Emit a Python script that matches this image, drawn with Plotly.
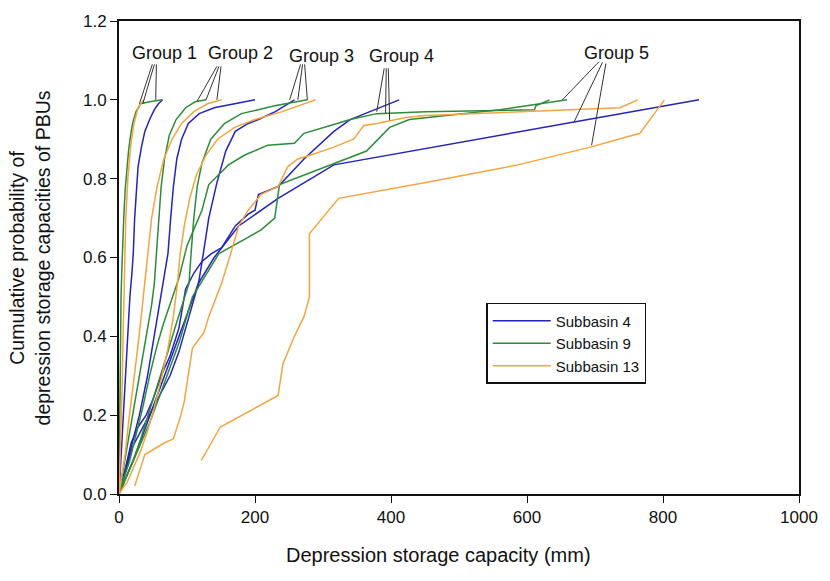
import plotly.graph_objects as go

# ---------------- data ----------------
subbasins = ["Subbasin 4", "Subbasin 9", "Subbasin 13"]
colors = {"Subbasin 4": "#2424b8", "Subbasin 9": "#2e8b3a", "Subbasin 13": "#f2a541"}

# Subbasin 4 (blue)
s4_g1_x = [0, 3, 7, 10, 13, 16, 19, 21, 23, 26, 28, 33, 38, 45, 52, 58, 64]
s4_g1_y = [0, .1, .2, .3, .4, .5, .56, .61, .7, .78, .83, .88, .92, .95, .975, .99, 1.0]
s4_g2_x = [0, 8, 18, 30, 42, 52, 60, 66, 72, 76, 80, 85, 92, 102, 118, 140, 170, 200]
s4_g2_y = [0, .05, .12, .2, .3, .4, .48, .55, .61, .7, .78, .85, .9, .94, .965, .98, .99, 1.0]
s4_g3_x = [0, 10, 22, 35, 50, 65, 80, 93, 105, 117, 124, 132, 144, 157, 171, 190, 205, 230, 258]
s4_g3_y = [0, .04, .09, .15, .22, .29, .36, .42, .48, .535, .61, .7, .79, .87, .92, .94, .95, .97, 1.0]
s4_g4_x = [0, 3, 10, 18, 28, 40, 50, 62, 75, 88, 98, 110, 122, 136, 151, 171, 190, 200, 205, 234, 272, 316, 340, 369, 412]
s4_g4_y = [0, .02, .07, .13, .17, .2, .24, .3, .35, .42, .52, .56, .59, .61, .625, .68, .71, .72, .76, .78, .85, .92, .95, .97, 1.0]
s4_g5_x = [0, 3, 10, 20, 35, 50, 62, 75, 88, 100, 117, 140, 176, 234, 316, 853]
s4_g5_y = [0, .02, .06, .12, .17, .22, .26, .3, .36, .43, .535, .6, .68, .75, .835, 1.0]

# Subbasin 9 (green)
s9_g1_x = [0, .5, 1, 1.5, 2, 3, 4, 5, 7, 9, 11, 14, 17, 20, 25, 32, 45, 64]
s9_g1_y = [0, .1, .2, .3, .4, .5, .56, .62, .7, .77, .82, .87, .91, .94, .97, .99, .995, 1.0]
s9_g2_x = [0, 5, 11, 18, 26, 34, 42, 48, 52, 55, 58, 62, 67, 74, 84, 98, 112, 128]
s9_g2_y = [0, .05, .1, .17, .25, .33, .41, .48, .535, .61, .7, .78, .85, .91, .95, .98, .995, 1.0]
s9_g3_x = [0, 10, 20, 32, 45, 58, 70, 82, 93, 103, 106, 110, 115, 122, 135, 155, 180, 229, 277]
s9_g3_y = [0, .04, .08, .14, .21, .28, .35, .42, .48, .535, .61, .7, .78, .84, .9, .94, .965, .985, 1.0]
s9_g4_x = [0, 5, 15, 25, 35, 45, 55, 65, 75, 88.5, 100, 122, 132, 161, 185, 219, 258, 272, 311, 340, 379, 451, 611, 613, 633]
s9_g4_y = [0, .03, .08, .15, .22, .3, .37, .43, .48, .55, .63, .72, .785, .835, .86, .885, .89, .915, .935, .95, .965, .97, .975, .985, 1.0]
s9_g5_x = [0, 5, 15, 30, 45, 60, 75, 88.5, 108, 147, 209, 229, 236, 311, 364, 398, 427, 560, 659]
s9_g5_y = [0, .02, .06, .12, .18, .25, .32, .385, .5, .61, .67, .70, .785, .835, .87, .93, .95, .975, 1.0]

# Subbasin 13 (orange)
s13_g1_x = [0, 2, 3, 5, 6, 7, 8, 10, 13, 17, 22, 28, 36]
s13_g1_y = [0, .1, .2, .3, .4, .5, .6, .7, .8, .88, .94, .98, 1.0]
s13_g2_x = [0, 4, 9, 14, 20, 26, 32, 38, 42, 48, 56, 66, 78, 92, 110, 130, 151]
s13_g2_y = [0, .05, .1, .18, .26, .35, .44, .535, .61, .7, .78, .85, .9, .94, .97, .99, 1.0]
s13_g3_x = [0, 12, 22, 32, 42, 52, 62, 72, 80, 86, 90, 96, 104, 114, 128, 145, 170, 200, 240, 265, 289]
s13_g3_y = [0, .03, .07, .11, .16, .22, .29, .37, .45, .535, .61, .68, .75, .81, .86, .9, .93, .95, .97, .985, 1.0]
s13_g4_x = [23, 38, 67, 80, 91, 96, 108, 125, 132, 151, 166, 176, 190, 209, 234, 248, 263, 282, 316, 345, 360, 379, 422, 451, 737, 763]
s13_g4_y = [.02, .1, .13, .14, .2, .235, .37, .41, .45, .535, .62, .68, .72, .76, .78, .83, .85, .86, .88, .9, .935, .94, .955, .96, .98, 1.0]
s13_g5_x = [121, 149, 234, 241, 258, 272, 280, 280, 323, 451, 587, 693, 766, 802]
s13_g5_y = [.085, .17, .25, .33, .40, .45, .50, .66, .75, .79, .835, .88, .915, 1.0]

series = {
    "Subbasin 4": [(s4_g1_x, s4_g1_y), (s4_g2_x, s4_g2_y), (s4_g3_x, s4_g3_y), (s4_g4_x, s4_g4_y), (s4_g5_x, s4_g5_y)],
    "Subbasin 9": [(s9_g1_x, s9_g1_y), (s9_g2_x, s9_g2_y), (s9_g3_x, s9_g3_y), (s9_g4_x, s9_g4_y), (s9_g5_x, s9_g5_y)],
    "Subbasin 13": [(s13_g1_x, s13_g1_y), (s13_g2_x, s13_g2_y), (s13_g3_x, s13_g3_y), (s13_g4_x, s13_g4_y), (s13_g5_x, s13_g5_y)],
}

# group labels and their leader lines (data coordinates)
group_labels = ["Group 1", "Group 2", "Group 3", "Group 4", "Group 5"]
label_x = [67, 178, 298, 416, 731]
label_y = [1.12, 1.118, 1.11, 1.11, 1.12]
leader_start = [[(49, 1.09), (52, 1.09), (55, 1.09)],
                [(144, 1.085), (147, 1.085), (150, 1.085)],
                [(267, 1.09), (270, 1.09), (273, 1.09)],
                [(390, 1.08), (393, 1.08), (396, 1.08)],
                [(706, 1.097), (711, 1.095), (716, 1.092)]]
leader_end = [[(30, 0.99), (35, 0.99), (54, 1.0)],
              [(115, 0.997), (128, 1.0), (144, 1.0)],
              [(251, 1.0), (263, 1.0), (277, 1.0)],
              [(379, 0.97), (392, 0.965), (398, 0.948)],
              [(652, 1.0), (669, 0.943), (695, 0.885)]]

x_ticks = [0, 200, 400, 600, 800, 1000]
y_ticks = [0.0, 0.2, 0.4, 0.6, 0.8, 1.0, 1.2]

FONT = "Liberation Sans, Arial, sans-serif"

fig = go.Figure()
for name in subbasins:
    for i, (xs, ys) in enumerate(series[name]):
        fig.add_trace(go.Scatter(
            x=xs, y=ys, mode="lines", name=name, legendgroup=name,
            showlegend=(i == 0),
            line=dict(color=colors[name], width=1.5),
        ))

for k, lab in enumerate(group_labels):
    fig.add_annotation(x=label_x[k], y=label_y[k], text=lab, showarrow=False,
                       font=dict(size=18, color="#111"), xref="x", yref="y")
    for (x0, y0), (x1, y1) in zip(leader_start[k], leader_end[k]):
        fig.add_shape(type="line", x0=x0, y0=y0, x1=x1, y1=y1, xref="x", yref="y",
                      line=dict(color="#333", width=1))

fig.update_layout(
    width=830, height=581,
    margin=dict(l=119, r=23, t=14, b=87),
    paper_bgcolor="white", plot_bgcolor="white",
    font=dict(family=FONT, size=17, color="#111"),
    showlegend=True,
    legend=dict(x=0.540, y=0.404, xanchor="left", yanchor="top",
                bordercolor="#111", borderwidth=1.5, bgcolor="white",
                font=dict(size=15), tracegroupgap=0, itemwidth=58),
    xaxis=dict(range=[0, 1000], tickvals=x_ticks, ticktext=[str(v) for v in x_ticks],
               showgrid=False, zeroline=False, showline=True, linecolor="#111", linewidth=1.8,
               mirror=True, ticks="outside", ticklen=7, tickwidth=1.3, tickcolor="#111"),
    yaxis=dict(range=[0, 1.2], tickvals=y_ticks, ticktext=["%.1f" % v for v in y_ticks],
               showgrid=False, zeroline=False, showline=True, linecolor="#111", linewidth=1.8,
               mirror=True, ticks="outside", ticklen=7, tickwidth=1.3, tickcolor="#111"),
)

fig.add_annotation(text="Depression storage capacity (mm)", xref="paper", yref="paper",
                   x=0.47, y=-0.13, xanchor="center", yanchor="middle", showarrow=False,
                   font=dict(size=20))
fig.add_annotation(text="Cumulative probability of<br>depression storage capacities of PBUs",
                   xref="paper", yref="paper", x=-0.131, y=0.5, xanchor="center", yanchor="middle",
                   textangle=-90, showarrow=False, font=dict(size=19.5))

fig.write_html("out.html")
